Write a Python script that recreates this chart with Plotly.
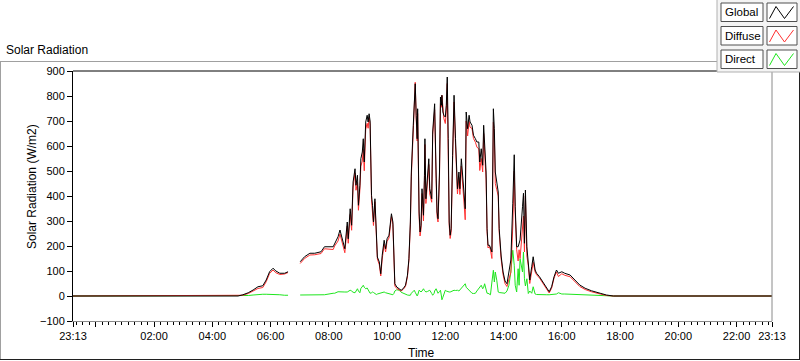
import pandas as pd
import plotly.graph_objects as go

# ---------------- data ----------------
# time of each sample, in minutes after midnight (-47 = 23:13 of the previous day)
minutes = [
    -47, 293, 303, 314, 324, 334, 344, 351, 358, 365,
    371, 379, 389, 396, 408, 421, 430, 441, 451, 464,
    471, 489, 492, 499, 503, 513, 518, 520, 524, 527,
    530, 534, 536, 539, 541, 544, 546, 549, 551, 553,
    556, 559, 561, 563, 565, 568, 570, 572, 575, 577,
    578, 580, 584, 587, 590, 594, 597, 600, 604, 607,
    609, 612, 614, 616, 620, 625, 629, 633, 638, 642,
    645, 648, 650, 654, 656, 658, 660, 662, 663, 664,
    666, 668, 670, 672, 675, 677, 678, 680, 683, 686,
    688, 692, 694, 697, 698, 701, 703, 705, 708, 710,
    712, 713, 715, 717, 720, 722, 724, 726, 728, 730,
    732, 735, 738, 741, 743, 745, 748, 750, 753, 756,
    758, 761, 763, 766, 769, 771, 775, 778, 782, 785,
    789, 791, 794, 797, 799, 801, 804, 806, 808, 811,
    813, 816, 819, 821, 823, 826, 829, 831, 835, 839,
    843, 847, 851, 855, 859, 862, 864, 867, 870, 872,
    874, 879, 881, 883, 885, 888, 891, 894, 898, 901,
    905, 908, 914, 922, 929, 934, 939, 944, 949, 953,
    960, 966, 977, 987, 997, 1008, 1021, 1039, 1052, 1066,
    1393,
]

global_rad = [
    0, 0, 5, 13, 24, 37, 41, 64, 97, 111,
    100, 91, 91, 97, None, 137, 157, 171, 171, 177,
    197, 197, 211, 237, 264, 189, 296, 229, 349, 283,
    456, 509, 443, 483, 363, 443, 549, 576, 629, 536,
    696, 723, 696, 729, 700, 403, 363, 296, 389, 283,
    203, 156, 136, 89, 163, 223, 189, 229, 243, 309,
    329, 296, 203, 49, 36, 29, 23, 29, 43, 83,
    149, 296, 496, 683, 816, 849, 723, 629, 749, 496,
    336, 256, 283, 429, 323, 483, 629, 389, 483, 549,
    429, 389, 656, 763, 769, 496, 336, 309, 496, 796,
    763, 803, 736, 723, 716, 763, 876, 629, 296, 243,
    269, 563, 803, 629, 469, 429, 496, 429, 549, 469,
    389, 349, 736, 669, 723, 696, 683, 643, 629, 616,
    616, 536, 589, 523, 683, 603, 496, 269, 203, 203,
    189, 176, 749, 669, 496, 456, 416, 269, 160, 96,
    60, 49, 92, 144, 371, 565, 357, 197, 197, 210,
    224, 357, 411, 211, 424, 197, 131, 64, 117, 157,
    104, 91, 77, 51, 31, 17, 37, 77, 104, 91,
    97, 91, 84, 64, 44, 31, 21, 11, 4, 0,
    0,
]

diffuse_rad = [
    0, 0, 3, 10, 20, 30, 34, 57, 90, 104,
    93, 86, 88, 94, None, 130, 150, 164, 165, 170,
    189, 186, 200, 220, 248, 173, 280, 211, 326, 263,
    436, 492, 423, 454, 343, 425, 519, 540, 586, 501,
    667, 691, 671, 714, 689, 385, 347, 282, 377, 274,
    193, 148, 125, 80, 148, 207, 176, 218, 232, 298,
    318, 286, 193, 40, 30, 25, 20, 26, 38, 77,
    142, 285, 478, 660, 790, 855, 712, 620, 730, 478,
    318, 240, 268, 410, 300, 462, 606, 370, 462, 526,
    408, 375, 645, 745, 745, 470, 318, 296, 476, 770,
    755, 803, 735, 710, 690, 740, 850, 610, 282, 230,
    254, 540, 776, 604, 448, 408, 474, 406, 520, 432,
    350, 305, 700, 640, 698, 675, 670, 630, 615, 596,
    588, 502, 550, 496, 650, 560, 468, 258, 192, 198,
    184, 150, 695, 640, 450, 425, 400, 255, 148, 85,
    50, 38, 68, 95, 280, 500, 335, 185, 140, 185,
    150, 305, 320, 176, 400, 160, 121, 50, 106, 135,
    96, 85, 72, 46, 26, 12, 31, 72, 96, 78,
    89, 83, 77, 58, 38, 26, 17, 8, 2, 0,
    0,
]

direct_rad = [
    0, 0, 0, 2, 4, 7, 7, 7, 7, 7,
    7, 5, 3, 3, None, 4, 4, 4, 4, 4,
    5, 11, 11, 17, 16, 16, 16, 18, 23, 20,
    15, 13, 20, 29, 20, 13, 30, 36, 43, 35,
    29, 32, 25, 15, 11, 13, 16, 14, 8, 5,
    6, 8, 11, 13, 15, 16, 13, 11, 8, 6,
    5, 5, 10, 20, 25, 23, 15, 11, 5, 4,
    3, 3, 11, 20, 23, 15, 5, 0, 3, 15,
    23, 20, 16, 20, 29, 22, 18, 16, 18, 22,
    23, 10, 3, 11, 20, 29, 20, 11, 18, 23,
    0, -15, -5, 10, 23, 20, 18, 16, 16, 16,
    18, 20, 23, 22, 23, 23, 20, 25, 30, 40,
    43, 49, 35, 29, 23, 20, 11, 10, 11, 20,
    29, 36, 43, 29, 35, 49, 29, 11, 11, 5,
    5, 56, 103, 56, 96, 63, 16, 14, 12, 11,
    11, 20, 43, 96, 183, 123, 43, 16, 109, 43,
    149, 96, 176, 69, 40, 69, 10, 20, 11, 37,
    8, 6, 5, 5, 5, 5, 6, 5, 8, 13,
    8, 8, 7, 6, 6, 5, 4, 3, 2, 0,
    0,
]

series_names = ["Global", "Diffuse", "Direct"]
series_colors = ["#000000", "#ff3030", "#1ee61e"]

y_ticks = [-100, 0, 100, 200, 300, 400, 500, 600, 700, 800, 900]
x_tick_hours = [0, 2, 4, 6, 8, 10, 12, 14, 16, 18, 20, 22]
x_tick_labels = ["23:13", "", "02:00", "04:00", "06:00", "08:00", "10:00", "12:00",
                 "14:00", "16:00", "18:00", "20:00", "22:00", "23:13"]

# ---------------- build ----------------
base = pd.Timestamp("2023-05-02")
t_start = base - pd.Timedelta(minutes=47)
t_end = t_start + pd.Timedelta(hours=24)
times = [base + pd.Timedelta(minutes=m) for m in minutes]
tickvals = [t_start] + [base + pd.Timedelta(hours=h) for h in x_tick_hours] + [t_end]

W, H = 800, 361
ML, MR, MT, MB = 73, 28, 71, 40
PW, PH = W - ML - MR, H - MT - MB


def px(x):
    return (x - ML) / PW


def py(y):
    return (H - MB - y) / PH


FONT = "Liberation Sans, Arial, sans-serif"

fig = go.Figure()
values = {"Global": global_rad, "Diffuse": diffuse_rad, "Direct": direct_rad}
for name in ["Direct", "Diffuse", "Global"]:
    col = series_colors[series_names.index(name)]
    fig.add_trace(go.Scatter(x=times, y=values[name], mode="lines", name=name,
                             line=dict(color=col, width=1), connectgaps=False,
                             hoverinfo="skip", showlegend=False))

shapes = []


def line(x0, y0, x1, y1, color, width=1):
    shapes.append(dict(type="line", xref="paper", yref="paper",
                       x0=px(x0), y0=py(y0), x1=px(x1), y1=py(y1),
                       line=dict(color=color, width=width), layer="above"))


def rect(x0, y0, x1, y1, fill, color):
    shapes.append(dict(type="rect", xref="paper", yref="paper",
                       x0=px(x0), y0=py(y0), x1=px(x1), y1=py(y1),
                       fillcolor=fill, line=dict(color=color, width=1), layer="above"))


# outer panel frame
line(0, 61.5, 717, 61.5, "#a0a0a0")
line(0.5, 61.5, 0.5, 359.5, "#a0a0a0")
line(0, 359.5, 800, 359.5, "#202020")
line(799.5, 72, 799.5, 359.5, "#202020")
# plot frame (top and right)
line(73, 71, 772, 71, "#000000")
line(772, 71, 772, 321, "#8a8a8a")

# legend panel
rect(717, -1, 801, 72, "#f4f4f4", "#b0b0b0")
annotations = []
for i, name in enumerate(series_names):
    y0 = 3 + i * 23.5
    y1 = y0 + 18.5
    rect(721, y0, 763, y1, "#ffffff", "#505050")
    rect(767, y0, 797, y1, "#ffffff", "#505050")
    pts = [(769.5, y1 - 3), (776, y0 + 3.5), (784.5, y1 - 3), (793.5, y0 + 3.5)]
    path = "M " + " L ".join(f"{px(a)},{py(b)}" for a, b in pts)
    shapes.append(dict(type="path", xref="paper", yref="paper", path=path,
                       line=dict(color=series_colors[i], width=1), layer="above"))
    annotations.append(dict(x=px(723), y=py((y0 + y1) / 2), xref="paper", yref="paper",
                            text=name, showarrow=False, xanchor="left", yanchor="middle",
                            font=dict(size=11.5, color="#000000", family=FONT)))

annotations += [
    dict(x=px(4), y=py(50.5), xref="paper", yref="paper", text="Solar Radiation",
         showarrow=False, xanchor="left", yanchor="middle",
         font=dict(size=12, color="#000000", family=FONT)),
    dict(x=px(32), y=py(187), xref="paper", yref="paper", text="Solar Radiation (W/m2)",
         showarrow=False, textangle=-90, xanchor="center", yanchor="middle",
         font=dict(size=12, color="#000000", family=FONT)),
    dict(x=px(421), y=py(353), xref="paper", yref="paper", text="Time",
         showarrow=False, xanchor="center", yanchor="middle",
         font=dict(size=12, color="#000000", family=FONT)),
]

fig.update_layout(
    width=W, height=H,
    margin=dict(l=ML, r=MR, t=MT, b=MB, pad=0),
    paper_bgcolor="#ffffff", plot_bgcolor="#ffffff",
    showlegend=False,
    font=dict(family=FONT, size=11, color="#000000"),
    shapes=shapes, annotations=annotations,
    xaxis=dict(type="date", range=[t_start, t_end], tickmode="array",
               tickvals=tickvals, ticktext=x_tick_labels,
               ticks="outside", ticklen=5, tickcolor="#000000", tickwidth=1,
               showline=True, linecolor="#8a8a8a", linewidth=1,
               showgrid=False, zeroline=False,
               tickfont=dict(size=11, color="#000000", family=FONT),
               minor=dict(ticks="outside", ticklen=3, tickcolor="#000000",
                          dtick=800000, tick0=base, showgrid=False)),
    yaxis=dict(range=[-100, 900], tickmode="array", tickvals=y_ticks,
               ticks="outside", ticklen=5, tickcolor="#000000", tickwidth=1,
               showline=True, linecolor="#000000", linewidth=1,
               showgrid=False, zeroline=False,
               tickfont=dict(size=11, color="#000000", family=FONT)),
)

fig.write_html("out.html",
               config={"displayModeBar": False, "staticPlot": True},
               post_script="document.body.style.margin='0px';"
                           "document.body.style.overflow='hidden';")
